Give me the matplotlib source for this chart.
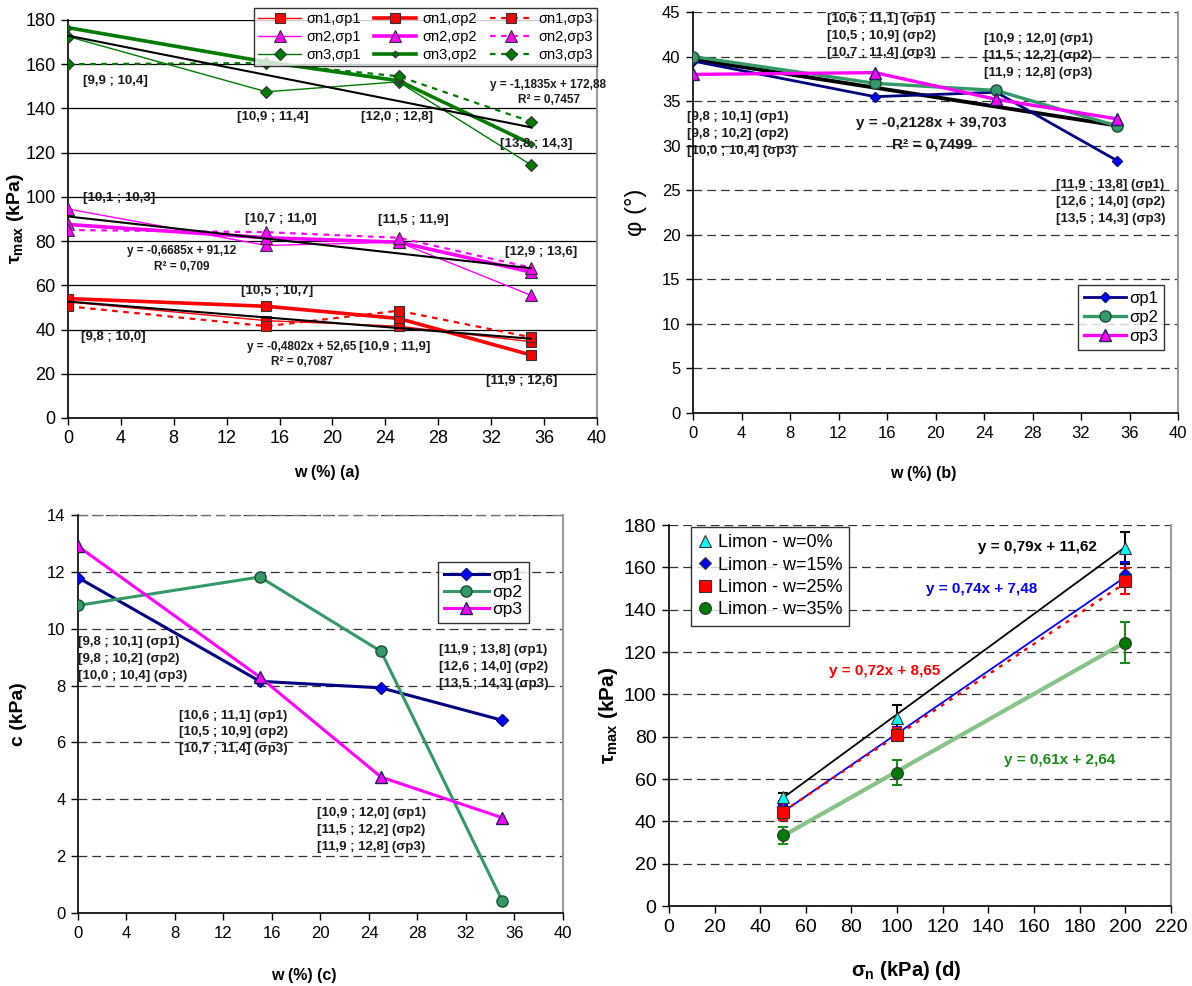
import matplotlib
matplotlib.use('Agg')
import matplotlib.pyplot as plt

plt.rcParams['font.family'] = ['Liberation Sans', 'DejaVu Sans']
plt.rcParams['mathtext.fontset'] = 'custom'
plt.rcParams['mathtext.rm'] = 'Liberation Sans'
plt.rcParams['mathtext.bf'] = 'Liberation Sans:bold'
plt.rcParams['mathtext.it'] = 'Liberation Sans:italic'

# ---------------- data ----------------
w = [0, 15, 25, 35]

# panel (a): tau_max (kPa) vs w
tau_n1_p1 = [52.5, 44.0, 41.5, 34.5]
tau_n1_p2 = [54.0, 50.5, 45.0, 28.5]
tau_n1_p3 = [50.5, 41.5, 48.5, 36.5]
tau_n2_p1 = [94.5, 78.0, 79.5, 55.5]
tau_n2_p2 = [87.5, 81.5, 79.5, 66.0]
tau_n2_p3 = [85.0, 84.0, 81.5, 68.0]
tau_n3_p1 = [172.5, 147.5, 152.0, 114.5]
tau_n3_p2 = [176.5, 161.0, 152.5, 124.0]
tau_n3_p3 = [160.0, 160.5, 154.5, 134.0]
trend_a_slope = [-0.4802, -0.6685, -1.1835]
trend_a_icpt = [52.65, 91.12, 172.88]

# panel (b): phi (deg) vs w
phi_p1 = [39.5, 35.5, 36.0, 28.3]
phi_p2 = [40.0, 37.0, 36.2, 32.2]
phi_p3 = [38.0, 38.2, 35.2, 33.0]
trend_b = (-0.2128, 39.703)

# panel (c): c (kPa) vs w
c_p1 = [11.8, 8.15, 7.92, 6.78]
c_p2 = [10.82, 11.82, 9.2, 0.42]
c_p3 = [12.9, 8.3, 4.78, 3.35]

# panel (d): tau_max vs sigma_n
sigma_n = [50, 100, 200]
tau_w0 = [51.5, 89.0, 169.0]
tau_w15 = [44.5, 81.5, 157.0]
tau_w25 = [44.5, 81.0, 153.5]
tau_w35 = [33.5, 63.0, 124.5]
err_w0 = [2.0, 6.0, 7.5]
err_w15 = [3.0, 3.0, 5.5]
err_w25 = [4.0, 3.0, 6.0]
err_w35 = [4.0, 6.0, 9.5]
trend_d_slope = [0.79, 0.74, 0.72, 0.61]
trend_d_icpt = [11.62, 7.48, 8.65, 2.64]
labels_d = ['Limon - w=0%', 'Limon - w=15%', 'Limon - w=25%', 'Limon - w=35%']

x_ticks_w = list(range(0, 41, 4))

# ---------------- figure ----------------
fig = plt.figure(figsize=(11.92, 9.86), dpi=100)
axa = fig.add_axes([0.0570, 0.5761, 0.4438, 0.4037])
axb = fig.add_axes([0.5814, 0.5811, 0.4069, 0.4067])
axc = fig.add_axes([0.0654, 0.0740, 0.4069, 0.4037])
axd = fig.add_axes([0.5612, 0.0811, 0.4211, 0.3864])

DASH = (0, (7, 4))


def style_axes(ax, dashed=True, labelsize=11.5):
    ax.spines['top'].set_visible(False)
    ax.spines['right'].set_color('#9a9a9a')
    ax.spines['right'].set_linewidth(1.5)
    ax.spines['left'].set_linewidth(1.2)
    ax.spines['bottom'].set_linewidth(1.2)
    ax.set_axisbelow(True)
    if dashed:
        ax.yaxis.grid(True, linestyle=DASH, color='#333333', lw=0.9)
    else:
        ax.yaxis.grid(True, linestyle='-', color='black', lw=0.9)
    ax.tick_params(direction='out', length=5, width=1, labelsize=labelsize, pad=4)


def place_labels(ax, xl, yl):
    ax.xaxis.set_label_coords(*xl)
    ax.yaxis.set_label_coords(*yl)
    ax.xaxis.label.set_va('center')
    ax.yaxis.label.set_va('center')


# ---------- panel (a) ----------
style_axes(axa, dashed=False, labelsize=13)
red, mag, grn = '#FF0000', '#FF00FF', '#007A00'
series_a = [
    (tau_n1_p1, red, '-', 1.0, 's', 7, 'σn1,σp1'),
    (tau_n2_p1, mag, '-', 1.0, '^', 8, 'σn2,σp1'),
    (tau_n3_p1, grn, '-', 1.0, 'D', 6, 'σn3,σp1'),
    (tau_n1_p2, red, '-', 2.6, 's', 7, 'σn1,σp2'),
    (tau_n2_p2, mag, '-', 2.6, '^', 8, 'σn2,σp2'),
    (tau_n3_p2, grn, '-', 2.6, 'D', 3.5, 'σn3,σp2'),
    (tau_n1_p3, red, (0, (2.5, 2.5)), 1.6, 's', 7, 'σn1,σp3'),
    (tau_n2_p3, mag, (0, (2.5, 2.5)), 1.6, '^', 8, 'σn2,σp3'),
    (tau_n3_p3, grn, (0, (2.5, 2.5)), 1.6, 'D', 6, 'σn3,σp3'),
]
handles = []
for ys, col, ls, lw, mk, ms, lab in series_a:
    h, = axa.plot(w, ys, color=col, ls=ls, lw=lw, marker=mk, ms=ms,
                  mfc=col, mec='#333333', mew=0.8, label=lab, zorder=3)
    handles.append(h)
for s, b in zip(trend_a_slope, trend_a_icpt):
    axa.plot([0, 35], [b, s * 35 + b], color='black', lw=1.5, zorder=4)

axa.set_xlim(0, 40)
axa.set_ylim(0, 180)
axa.set_xticks(x_ticks_w)
axa.set_yticks(range(0, 181, 20))
leg = axa.legend(handles=handles, ncol=3, loc='upper right',
                 bbox_to_anchor=(1.0, 1.03), fontsize=10.5, frameon=True,
                 fancybox=False, edgecolor='black', handlelength=2.9,
                 columnspacing=0.9, handletextpad=0.4, labelspacing=0.25,
                 borderpad=0.3, borderaxespad=0)
leg.get_frame().set_linewidth(1.0)

ann_a = [
    ('[9,9 ; 10,4]', 3.6, 152.2), ('[10,9 ; 11,4]', 15.5, 136.0),
    ('[12,0 ; 12,8]', 24.9, 136.2), ('[13,8 ; 14,3]', 35.4, 124.0),
    ('[10,1 ; 10,3]', 3.9, 99.3), ('[10,7 ; 11,0]', 16.1, 89.9),
    ('[11,5 ; 11,9]', 26.1, 89.4), ('[12,9 ; 13,6]', 35.8, 75.0),
    ('[10,5 ; 10,7]', 15.8, 57.2), ('[9,8 ; 10,0]', 3.4, 36.7),
    ('[10,9 ; 11,9]', 24.7, 32.2), ('[11,9 ; 12,6]', 34.3, 16.7),
]
for t, x, y in ann_a:
    axa.text(x, y, t, ha='center', va='center', fontsize=9.5,
             fontweight='bold', color='#1a1a1a', zorder=6)
eq_a = [
    ('y = -1,1835x + 172,88', 36.3, 150.4), ('R² = 0,7457', 36.4, 143.8),
    ('y = -0,6685x + 91,12', 8.6, 75.5), ('R² = 0,709', 8.6, 68.2),
    ('y = -0,4802x + 52,65', 17.7, 32.2), ('R² = 0,7087', 17.7, 25.3),
]
for t, x, y in eq_a:
    axa.text(x, y, t, ha='center', va='center', fontsize=8.5,
             fontweight='bold', color='#1a1a1a', zorder=6, clip_on=False)
axa.set_xlabel('w (%) (a)', fontsize=11.5, fontweight='bold')
axa.set_ylabel(r'τ$_{\mathbf{max}}$ (kPa)', fontsize=14, fontweight='bold')
place_labels(axa, (0.49, -0.138), (-0.1, 0.5))

# ---------- panel (b) ----------
style_axes(axb, dashed=True, labelsize=12)
navy, blue, sea = '#000080', '#0000FF', '#339966'
axb.plot([0, 35], [trend_b[1], trend_b[0] * 35 + trend_b[1]], color='black', lw=2.8, zorder=2)
axb.plot(w, phi_p1, color=navy, lw=2, marker='D', ms=5, mfc=blue, mec=navy, label='σp1', zorder=3)
axb.plot(w, phi_p2, color=sea, lw=2.4, marker='o', ms=8, mfc=sea, mec='#1d4d33', label='σp2', zorder=3)
axb.plot(w, phi_p3, color=mag, lw=2.4, marker='^', ms=8, mfc=mag, mec='#202060', label='σp3', zorder=4)
axb.set_xlim(0, 40)
axb.set_ylim(0, 45)
axb.set_xticks(x_ticks_w)
axb.set_yticks(range(0, 46, 5))
lb = axb.legend(loc='upper left', bbox_to_anchor=(0.794, 0.319), fontsize=12,
                fancybox=False, edgecolor='black', handlelength=2.5,
                handletextpad=0.2, labelspacing=0.25, borderpad=0.35, borderaxespad=0)
lb.get_frame().set_linewidth(1.0)

blocks_b = [
    ('[9,8 ; 10,1] (σp1)\n[9,8 ; 10,2] (σp2)\n[10,0 ; 10,4] (σp3)', -0.47, 31.3),
    ('[10,6 ; 11,1] (σp1)\n[10,5 ; 10,9] (σp2)\n[10,7 ; 11,4] (σp3)', 11.05, 42.3),
    ('[10,9 ; 12,0] (σp1)\n[11,5 ; 12,2] (σp2)\n[11,9 ; 12,8] (σp3)', 23.97, 40.1),
    ('[11,9 ; 13,8] (σp1)\n[12,6 ; 14,0] (σp2)\n[13,5 ; 14,3] (σp3)', 29.9, 23.7),
]
for t, x, y in blocks_b:
    axb.text(x, y, t, ha='left', va='center', fontsize=9.5, fontweight='bold',
             color='#1a1a1a', linespacing=1.55, zorder=6)
axb.text(19.65, 32.5, 'y = -0,2128x + 39,703', ha='center', va='center',
         fontsize=11, fontweight='bold', color='#1a1a1a', zorder=6)
axb.text(19.75, 30.1, 'R² = 0,7499', ha='center', va='center',
         fontsize=11, fontweight='bold', color='#1a1a1a', zorder=6)
axb.set_xlabel('w (%) (b)', fontsize=11.5, fontweight='bold')
axb.set_ylabel('φ (°)', fontsize=17)
place_labels(axb, (0.475, -0.15), (-0.117, 0.5))

# ---------- panel (c) ----------
style_axes(axc, dashed=True, labelsize=12)
axc.plot(w, c_p1, color=navy, lw=2.2, marker='D', ms=6, mfc=blue, mec=navy, label='σp1', zorder=3)
axc.plot(w, c_p2, color=sea, lw=2.2, marker='o', ms=8, mfc=sea, mec='#1d4d33', label='σp2', zorder=3)
axc.plot(w, c_p3, color=mag, lw=2.2, marker='^', ms=9, mfc=mag, mec='#202060', label='σp3', zorder=4)
axc.set_xlim(0, 40)
axc.set_ylim(0, 14)
axc.set_xticks(x_ticks_w)
axc.set_yticks(range(0, 15, 2))
axc.plot([0, 40], [14, 14], color='#777777', lw=1, ls=DASH, clip_on=False, zorder=1)
lc = axc.legend(loc='upper left', bbox_to_anchor=(0.742, 0.882), fontsize=12.5,
                fancybox=False, edgecolor='black', handlelength=2.6,
                handletextpad=0.2, labelspacing=0.1, borderpad=0.35, borderaxespad=0)
lc.get_frame().set_linewidth(1.0)
blocks_c = [
    ('[9,8 ; 10,1] (σp1)\n[9,8 ; 10,2] (σp2)\n[10,0 ; 10,4] (σp3)', 0.0, 8.93),
    ('[10,6 ; 11,1] (σp1)\n[10,5 ; 10,9] (σp2)\n[10,7 ; 11,4] (σp3)', 8.36, 6.35),
    ('[10,9 ; 12,0] (σp1)\n[11,5 ; 12,2] (σp2)\n[11,9 ; 12,8] (σp3)', 19.7, 2.93),
    ('[11,9 ; 13,8] (σp1)\n[12,6 ; 14,0] (σp2)\n[13,5 ; 14,3] (σp3)', 29.8, 8.66),
]
for t, x, y in blocks_c:
    axc.text(x, y, t, ha='left', va='center', fontsize=9.5, fontweight='bold',
             color='#1a1a1a', linespacing=1.55, zorder=6)
axc.set_xlabel('w (%) (c)', fontsize=11.5, fontweight='bold')
axc.set_ylabel('c (kPa)', fontsize=14, fontweight='bold')
place_labels(axc, (0.466, -0.158), (-0.122, 0.5))

# ---------- panel (d) ----------
style_axes(axd, dashed=True, labelsize=14)
trend_styles = [('black', '-', 1.3), (blue, '-', 1.3), (red, (0, (1.5, 2.5)), 1.8), ('#88C488', '-', 3.0)]
for (col, ls, lw), s, b in zip(trend_styles, trend_d_slope, trend_d_icpt):
    axd.plot([sigma_n[0], sigma_n[-1]], [s * sigma_n[0] + b, s * sigma_n[-1] + b],
             color=col, ls=ls, lw=lw, zorder=2)
pts = [
    (tau_w0, err_w0, 'black', '^', '#00FFFF', 8),
    (tau_w15, err_w15, blue, 'D', blue, 6.5),
    (tau_w25, err_w25, red, 's', red, 8),
    (tau_w35, err_w35, '#1a8a1a', 'o', '#007A00', 8.5),
]
hd = []
for (ys, es, ecol, mk, fc, ms), lab in zip(pts, labels_d):
    axd.errorbar(sigma_n, ys, yerr=es, fmt='none', ecolor=ecol, elinewidth=1.5,
                 capsize=3.5, capthick=1.5, zorder=3)
    h, = axd.plot(sigma_n, ys, ls='none', marker=mk, ms=ms, mfc=fc, mec='#333333',
                  mew=0.8, label=lab, zorder=4)
    hd.append(h)
axd.set_xlim(0, 220)
axd.set_ylim(0, 180)
axd.set_xticks(range(0, 221, 20))
axd.set_yticks(range(0, 181, 20))
ld = axd.legend(handles=hd, loc='upper left', bbox_to_anchor=(0.043, 0.995), fontsize=13,
                fancybox=False, edgecolor='black', handlelength=0.8,
                handletextpad=0.3, labelspacing=0.3, borderpad=0.4, borderaxespad=0)
ld.get_frame().set_linewidth(1.0)
eq_d = [
    ('y = 0,79x + 11,62', 161.4, 169.4, 'black'),
    ('y = 0,74x + 7,48', 137.0, 149.8, blue),
    ('y = 0,72x + 8,65', 94.6, 111.0, red),
    ('y = 0,61x + 2,64', 171.4, 69.0, '#1a8a1a'),
]
for t, x, y, col in eq_d:
    axd.text(x, y, t, ha='center', va='center', fontsize=11, fontweight='bold',
             color=col, zorder=6)
axd.set_xlabel(r'σ$_{\mathbf{n}}$ (kPa) (d)', fontsize=14.5, fontweight='bold')
axd.set_ylabel(r'τ$_{\mathbf{max}}$ (kPa)', fontsize=15, fontweight='bold')
place_labels(axd, (0.472, -0.168), (-0.12, 0.5))

fig.savefig('out.png', dpi=100)
